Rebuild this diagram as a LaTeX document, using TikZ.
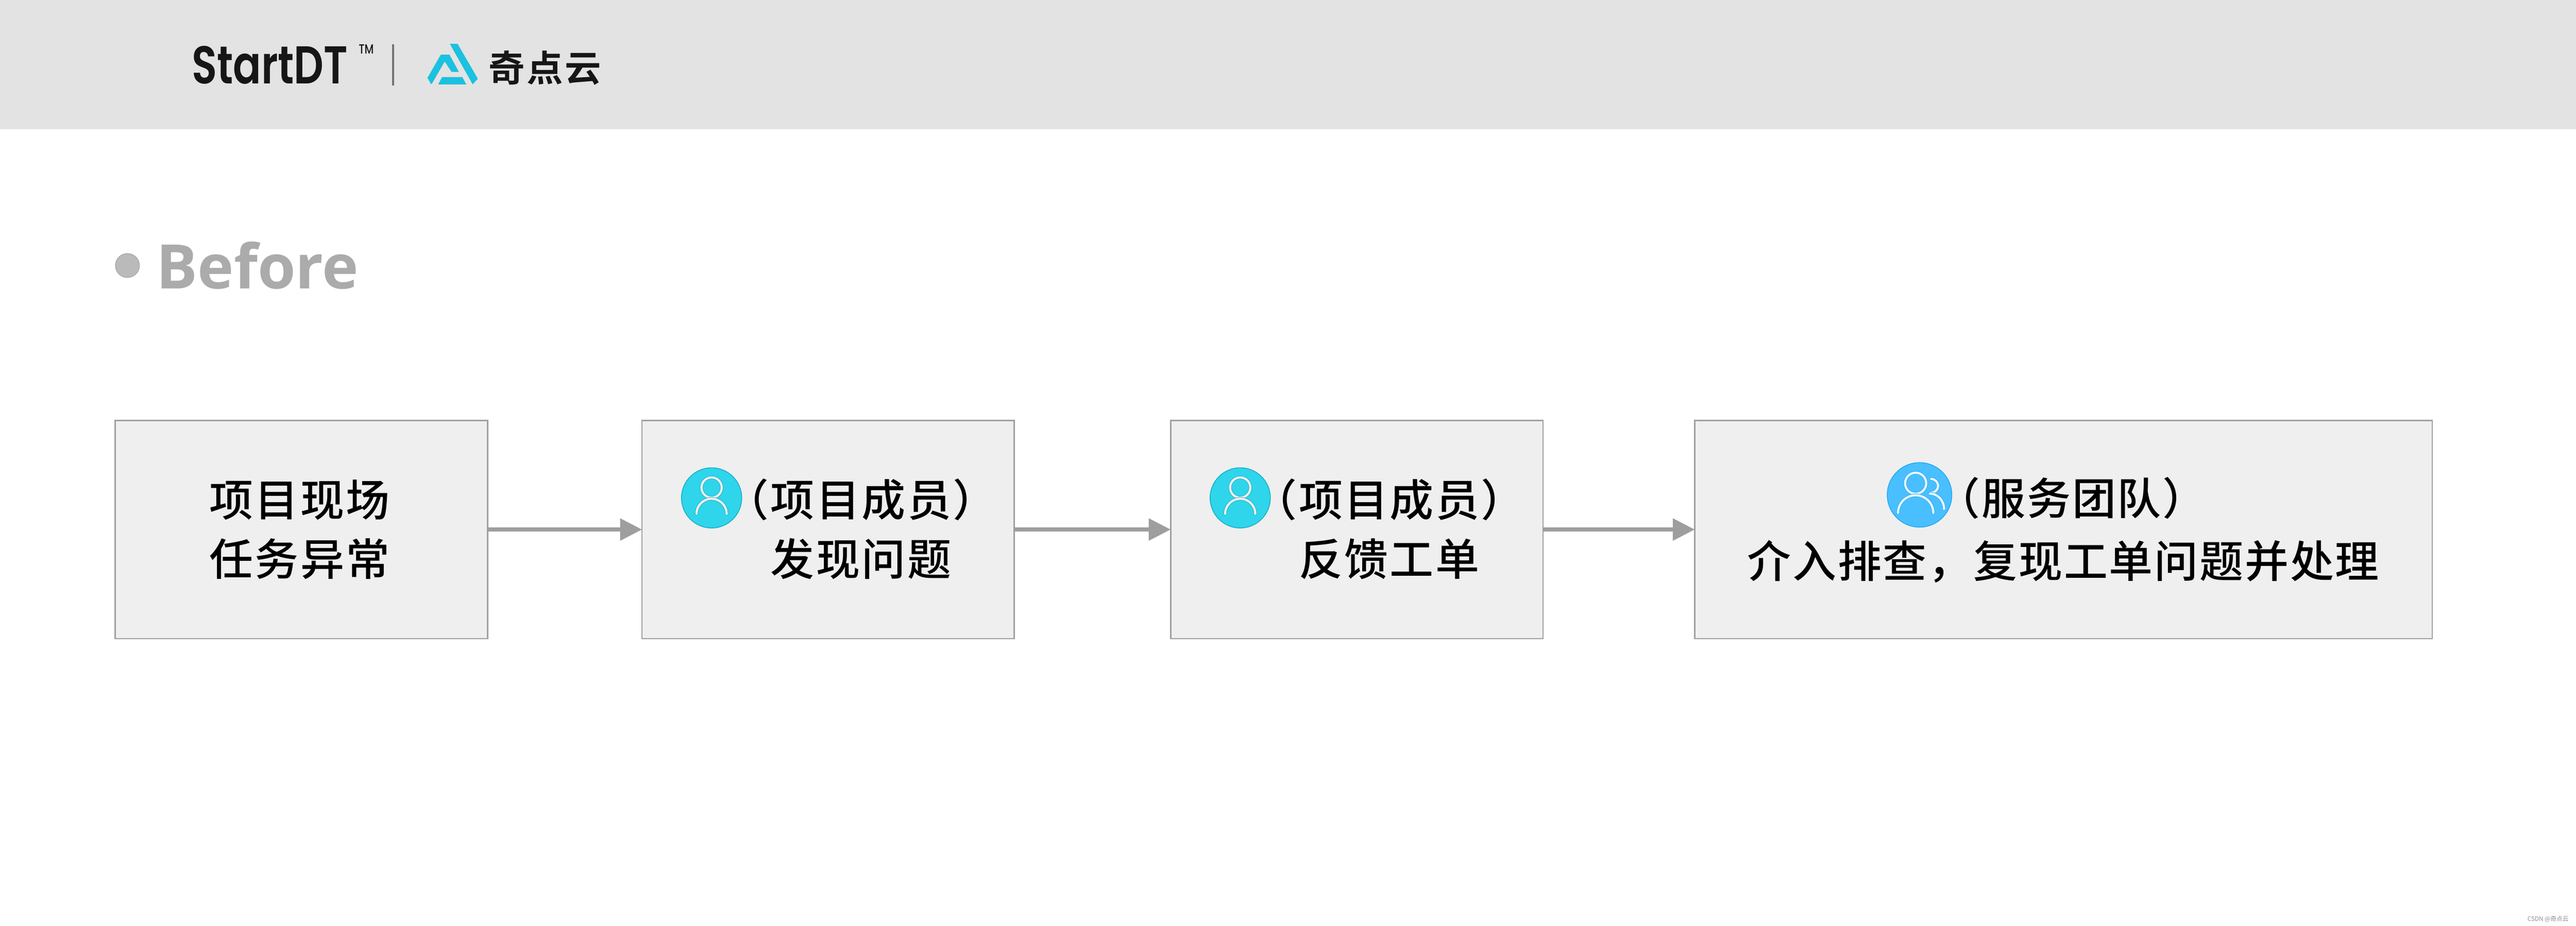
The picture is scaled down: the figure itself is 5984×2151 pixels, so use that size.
\documentclass[tikz,border=0pt]{standalone}
\usepackage{fontspec}
\usetikzlibrary{arrows.meta}

\newfontfamily\cjk[LetterSpace=4]{Noto Sans CJK SC Medium}
\newfontfamily\cjktight[LetterSpace=3.2]{Noto Sans CJK SC Medium}
\newfontfamily\cjkplain{Noto Sans CJK SC}
\newfontfamily\cjklogo[LetterSpace=5]{Noto Sans CJK SC Bold}
\newfontfamily\titlefont{Open Sans}
\newfontfamily\brandfont[FakeStretch=0.78]{Poppins SemiBold}
\newfontfamily\markfont[FakeStretch=0.78]{Poppins Medium}

\definecolor{headerbg}{HTML}{E3E3E3}
\definecolor{boxfill}{HTML}{EFEFEF}
\definecolor{boxedge}{HTML}{A0A0A0}
\definecolor{flowgray}{HTML}{9E9E9E}
\definecolor{logoblue}{HTML}{1BC1DF}
\definecolor{logoink}{HTML}{161616}
\definecolor{memberfill}{HTML}{2FD5EA}
\definecolor{memberedge}{HTML}{10AEC5}
\definecolor{teamfill}{HTML}{4ABFFF}
\definecolor{teamedge}{HTML}{1AA8F5}
\definecolor{teamring}{HTML}{E8F6FF}

\tikzset{
  stepbox/.style={draw=boxedge, fill=boxfill, line width=0.43pt, minimum height=2.535cm,
    inner sep=0pt, outer sep=0pt},
  steptext/.style={font=\cjk\fontsize{14.5}{17}\selectfont, anchor=base, inner sep=0pt, text=black},
  servicetext/.style={font=\cjktight\fontsize{14.5}{17}\selectfont, anchor=base, inner sep=0pt, text=black},
  flowarrow/.style={draw=flowgray, line width=1.25pt, -{Triangle[length=2.55mm,width=2.5mm]}},
  ringline/.style={line cap=round, line width=0.15pt, double distance=0.75pt},
  memberpic/.pic={
    \draw[draw=memberedge, fill=memberfill, line width=0.25pt] (0,0) circle (70);
    \draw[ringline, draw=memberedge, double=boxfill] (0,24) circle (23.5);
    \draw[ringline, draw=memberedge, double=boxfill] (-35,-37) arc (180:0:35);
  },
  teampic/.pic={
    \draw[draw=teamedge, fill=teamfill, line width=0.25pt] (0,0) circle (75);
    \draw[ringline, draw=teamedge, double=teamring] (-9,27) circle (24.5);
    \draw[ringline, draw=teamedge, double=teamring] (-50,-42) arc (180:0:41);
    \draw[ringline, draw=teamedge, double=teamring] (27,37) arc (90:-90:16);
    \draw[ringline, draw=teamedge, double=teamring] (24,3) arc (90:0:33 and 36);
  }
}

\begin{document}
\begin{tikzpicture}[x=0.005cm, y=0.005cm]

\useasboundingbox (0,0) rectangle (5984,2151);

% header band
\fill[headerbg] (0,1851) rectangle (5984,2151);

% brand
\node[anchor=base west, inner sep=0pt, text=logoink, font=\brandfont\fontsize{17.6}{20}\selectfont] (brand) at (444,1957) {StartDT};
\node[anchor=base west, inner sep=0pt, text=logoink, font=\markfont\fontsize{4.4}{5}\selectfont] (trademark) at (832,2026) {TM};
\draw[line width=0.57pt, draw=black!55] (913,1952) -- (913,2048);
\fill[logoblue] (1045,2049) -- (1063,2049) -- (1110,1968) -- (1098,1955) -- cycle;
\fill[logoblue] (1024,2024) -- (1044,2024) -- (1066,1984) -- (1049,1984) -- (1033,2008)
  -- (1003,1956) -- (1001,1956) -- (993,1970) -- cycle;
\fill[logoblue] (1027,1972) -- (1074,1972) -- (1083,1955) -- (1018,1955) -- cycle;
\node[anchor=base west, inner sep=0pt, text=logoink, font=\cjklogo\fontsize{12}{14}\selectfont] (brandcn) at (1134,1961) {奇点云};

% section title
\node[circle, draw=black!35, fill=black!27, line width=0.2pt, minimum size=0.28cm, inner sep=0pt] (dot) at (296,1534) {};
\node[anchor=base west, inner sep=0pt, text=black!33, font=\titlefont\fontsize{20.3}{24}\selectfont\bfseries] (before) at (362,1480) {Before};

% step boxes
\node[stepbox, minimum width=4.33cm] (scene) at (700,920.5) {};
\node[stepbox, minimum width=4.325cm] (found) at (1923.5,920.5) {};
\node[stepbox, minimum width=4.33cm] (report) at (3152,920.5) {};
\node[stepbox, minimum width=8.575cm] (service) at (4793.5,920.5) {};

% arrows
\foreach \a/\b in {scene/found, found/report, report/service}{
  \draw[flowarrow] (\a) -- (\b);
}

% box texts
\node[steptext] (sceneup) at (696,951) {项目现场};
\node[steptext] (scenedown) at (696,813) {任务异常};
\node[steptext] (foundup) at (2000,951) {（项目成员）};
\node[steptext] (founddown) at (2000,813) {发现问题};
\node[steptext] (reportup) at (3227,951) {（项目成员）};
\node[steptext] (reportdown) at (3227,813) {反馈工单};
\node[servicetext] (serviceup) at (4812,955) {（服务团队）};
\node[servicetext] (servicedown) at (4793,809) {介入排查，复现工单问题并处理};

% icons
\pic at (1653,994) {memberpic};
\pic at (2881,994) {memberpic};
\pic at (4459,1001) {teampic};

% watermark
\node[anchor=base east, inner sep=0pt, text=black!45, font=\cjkplain\fontsize{2}{2.4}\selectfont] (mark) at (5968,10) {CSDN @奇点云};

\end{tikzpicture}
\end{document}
